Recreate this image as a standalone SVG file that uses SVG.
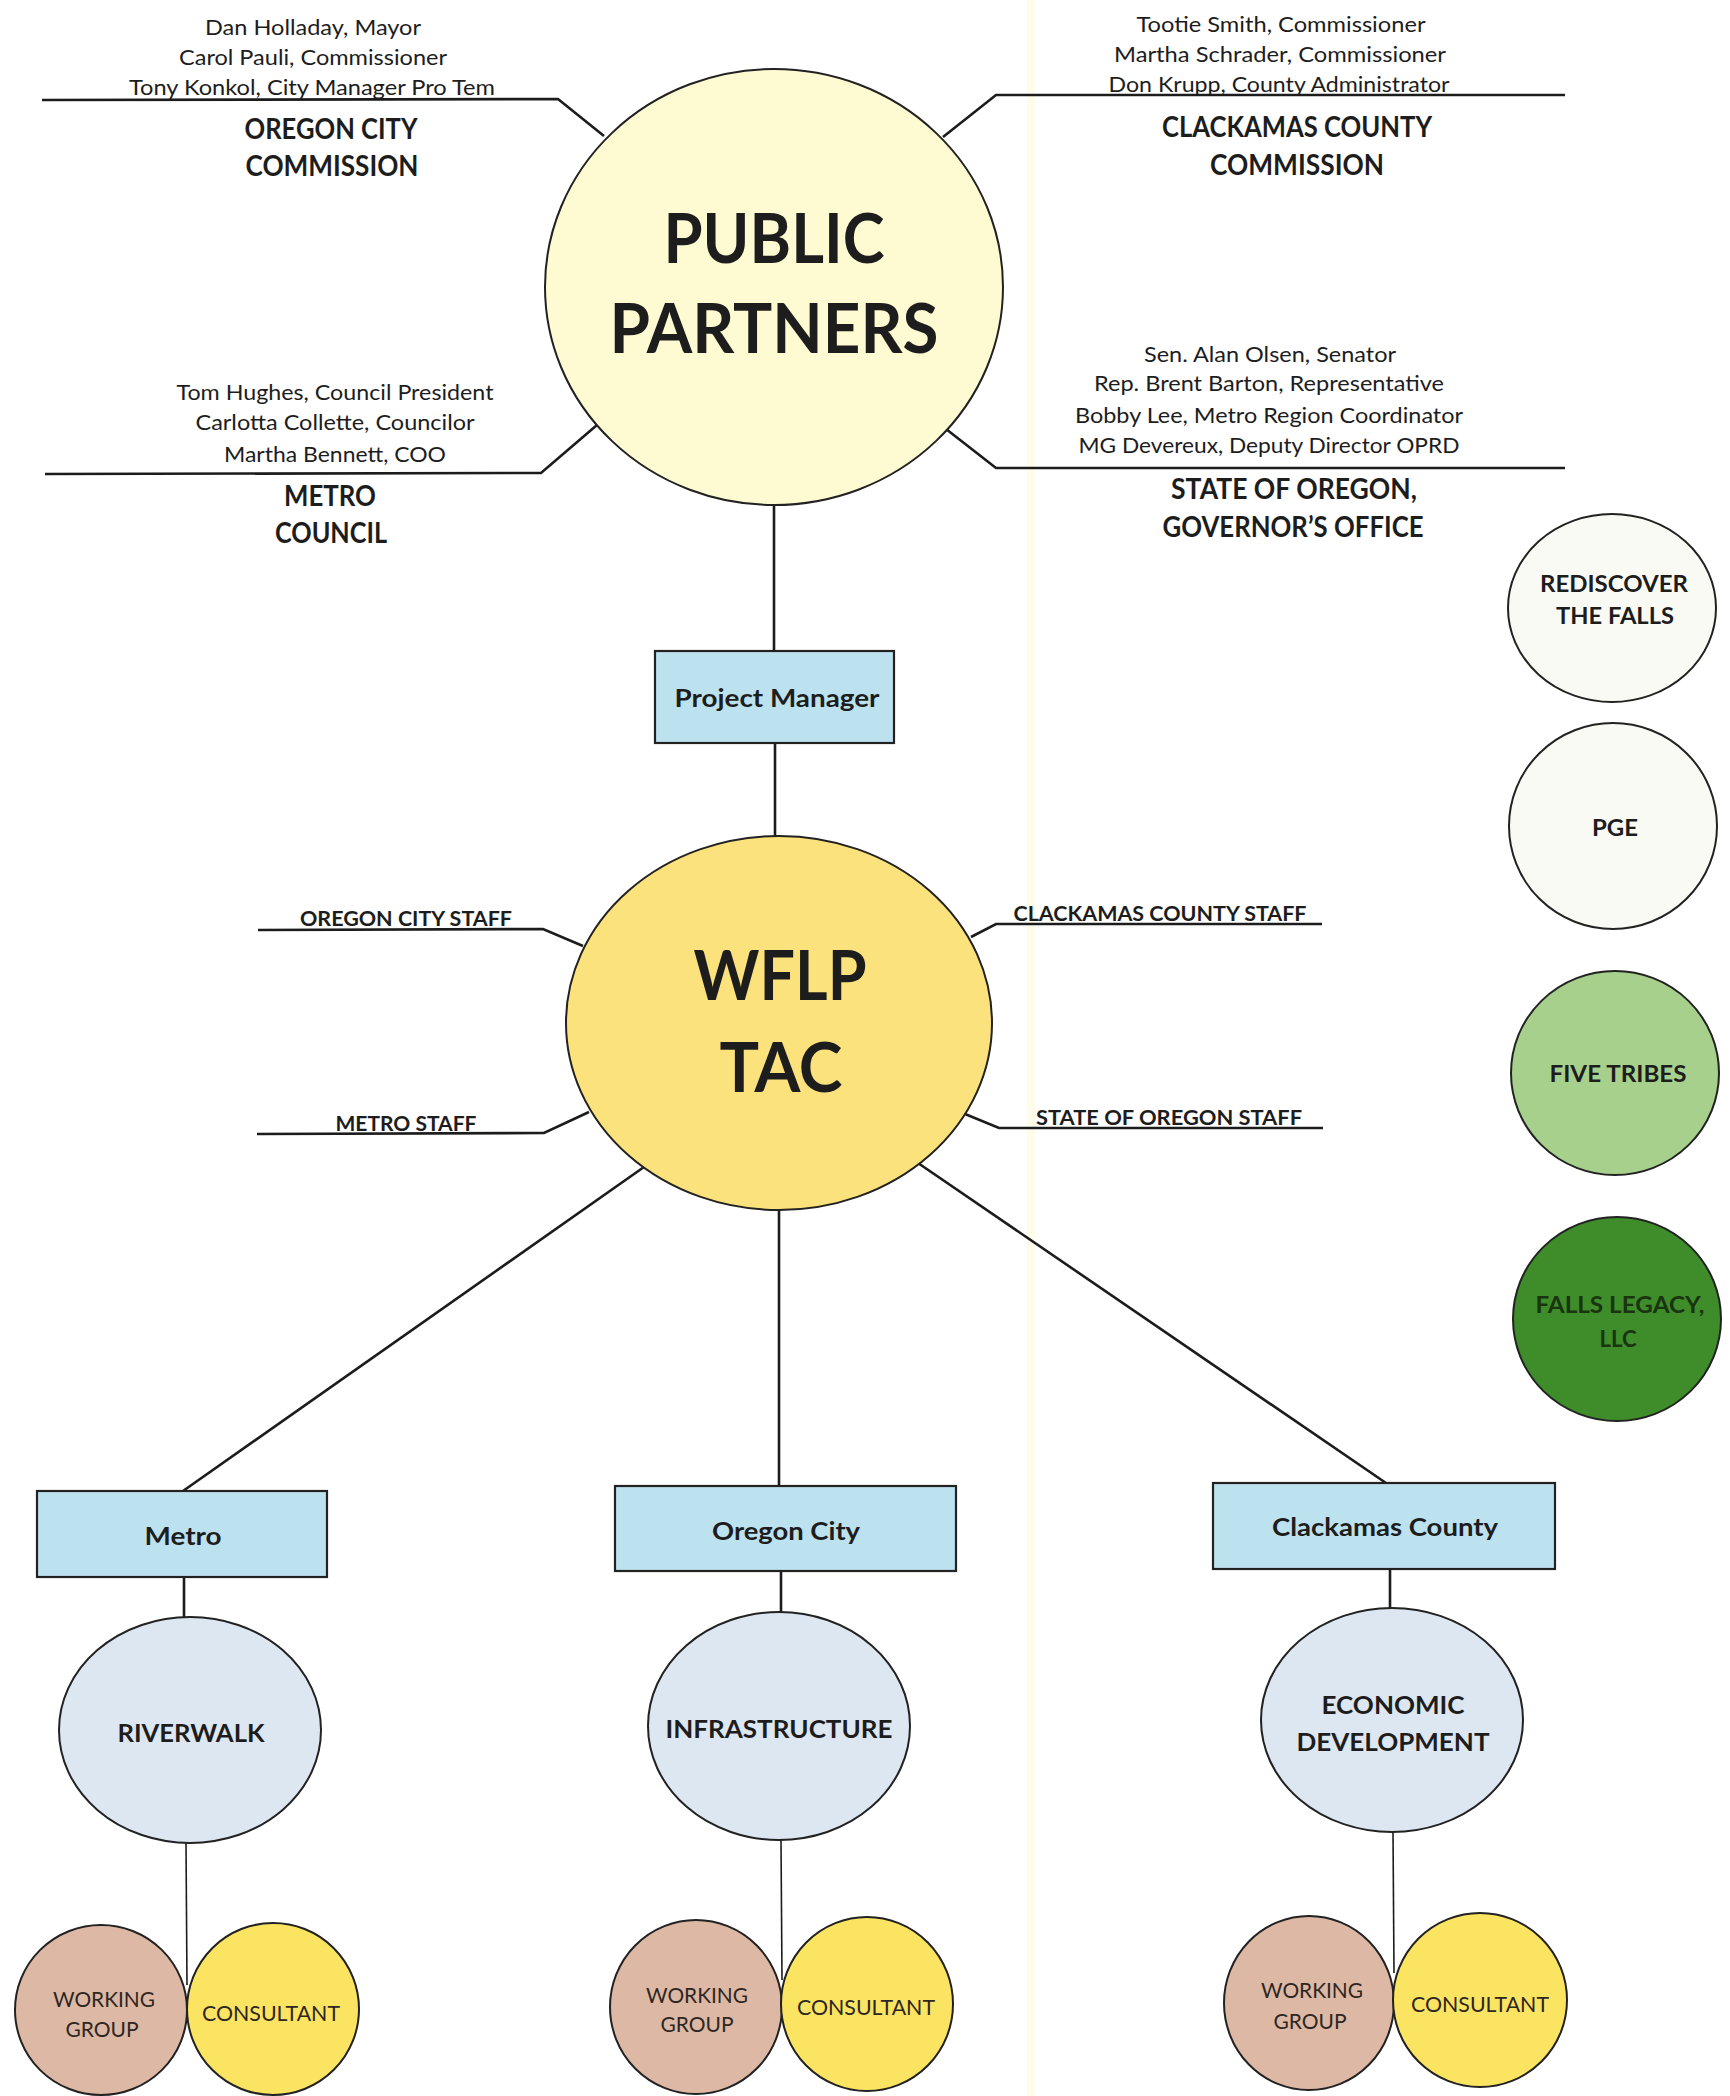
<svg xmlns="http://www.w3.org/2000/svg" width="1730" height="2096" viewBox="0 0 1730 2096">
  <style>
    .t { font-family: Lato, "Open Sans", "Liberation Sans", sans-serif; fill: #1d1d1d; text-anchor: middle; }
    .b { font-weight: 700; }
    .n { font-size: 22px; }
    .h { font-size: 28px; }
    .big { font-size: 68px; }
    .staff { font-size: 20px; }
    .box { font-size: 24px; }
    .sub { font-size: 25px; }
    .sm { font-size: 21px; fill: #2e2622; }
    .side { font-size: 22px; }
    .ln { stroke: #1c1c1c; stroke-width: 2.6; fill: none; stroke-linejoin: miter; }
    .thin { stroke: #1c1c1c; stroke-width: 1.6; fill: none; }
    .ol { stroke: #222; stroke-width: 2; }
    .rect { fill: #bde2ef; stroke: #222; stroke-width: 2.2; }
    .area { fill: #dde7f1; }
    .wg { fill: #ddb9a5; }
    .con { fill: #fce463; }
  </style>

  <rect x="0" y="0" width="1730" height="2096" fill="#ffffff"/>
  <rect x="1027" y="0" width="8" height="2096" fill="#fffcea"/>

  <g id="connectors">
    <polyline class="ln" points="42,100 558,99 604,136"/>
    <polyline class="ln" points="1565,95 996,95 943,137"/>
    <polyline class="ln" points="45,474 541,473 597,425"/>
    <polyline class="ln" points="1565,468 996,468 946,429"/>
    <line class="ln" x1="774" y1="505" x2="774" y2="651"/>
    <line class="ln" x1="775" y1="743" x2="775" y2="836"/>
    <polyline class="ln" points="258,930 543,929 583,946"/>
    <polyline class="ln" points="257,1134 544,1133 589,1112"/>
    <polyline class="ln" points="1322,924 996,924 971,937"/>
    <polyline class="ln" points="1323,1128 999,1128 965,1114"/>
    <line class="ln" x1="644" y1="1167" x2="183" y2="1491"/>
    <line class="ln" x1="779" y1="1210" x2="779" y2="1486"/>
    <line class="ln" x1="918" y1="1163" x2="1386" y2="1483"/>
    <line class="ln" x1="184" y1="1577" x2="184" y2="1617"/>
    <line class="thin" x1="186" y1="1843" x2="187" y2="1985"/>
    <line class="ln" x1="781" y1="1571" x2="781" y2="1612"/>
    <line class="thin" x1="781" y1="1840" x2="782" y2="1980"/>
    <line class="ln" x1="1390" y1="1569" x2="1390" y2="1608"/>
    <line class="thin" x1="1393" y1="1832" x2="1394" y2="1973"/>
  </g>

  <g id="oregon-city-commission">
    <text class="t n" x="313" y="35" textLength="216" lengthAdjust="spacingAndGlyphs">Dan Holladay, Mayor</text>
    <text class="t n" x="313" y="65" textLength="268" lengthAdjust="spacingAndGlyphs">Carol Pauli, Commissioner</text>
    <text class="t n" x="312" y="95" textLength="366" lengthAdjust="spacingAndGlyphs">Tony Konkol, City Manager Pro Tem</text>
    <text class="t b h" x="331" y="139" textLength="173" lengthAdjust="spacingAndGlyphs">OREGON CITY</text>
    <text class="t b h" x="332" y="176" textLength="173" lengthAdjust="spacingAndGlyphs">COMMISSION</text>
  </g>

  <g id="clackamas-county-commission">
    <text class="t n" x="1281" y="32" textLength="289" lengthAdjust="spacingAndGlyphs">Tootie Smith, Commissioner</text>
    <text class="t n" x="1280" y="62" textLength="332" lengthAdjust="spacingAndGlyphs">Martha Schrader, Commissioner</text>
    <text class="t n" x="1279" y="92" textLength="341" lengthAdjust="spacingAndGlyphs">Don Krupp, County Administrator</text>
    <text class="t b h" x="1297" y="137" textLength="270" lengthAdjust="spacingAndGlyphs">CLACKAMAS COUNTY</text>
    <text class="t b h" x="1297" y="175" textLength="174" lengthAdjust="spacingAndGlyphs">COMMISSION</text>
  </g>

  <g id="metro-council">
    <text class="t n" x="335" y="400" textLength="317" lengthAdjust="spacingAndGlyphs">Tom Hughes, Council President</text>
    <text class="t n" x="335" y="430" textLength="279" lengthAdjust="spacingAndGlyphs">Carlotta Collette, Councilor</text>
    <text class="t n" x="335" y="462" textLength="222" lengthAdjust="spacingAndGlyphs">Martha Bennett, COO</text>
    <text class="t b h" x="330" y="506" textLength="92" lengthAdjust="spacingAndGlyphs">METRO</text>
    <text class="t b h" x="331" y="543" textLength="112" lengthAdjust="spacingAndGlyphs">COUNCIL</text>
  </g>

  <g id="state-of-oregon">
    <text class="t n" x="1270" y="362" textLength="252" lengthAdjust="spacingAndGlyphs">Sen. Alan Olsen, Senator</text>
    <text class="t n" x="1269" y="391" textLength="350" lengthAdjust="spacingAndGlyphs">Rep. Brent Barton, Representative</text>
    <text class="t n" x="1269" y="423" textLength="388" lengthAdjust="spacingAndGlyphs">Bobby Lee, Metro Region Coordinator</text>
    <text class="t n" x="1269" y="453" textLength="381" lengthAdjust="spacingAndGlyphs">MG Devereux, Deputy Director OPRD</text>
    <text class="t b h" x="1294" y="499" textLength="246" lengthAdjust="spacingAndGlyphs">STATE OF OREGON,</text>
    <text class="t b h" x="1293" y="537" textLength="261" lengthAdjust="spacingAndGlyphs">GOVERNOR’S OFFICE</text>
  </g>

  <g id="public-partners">
    <ellipse cx="774" cy="287" rx="229" ry="218" fill="#fefad2" class="ol"/>
    <text class="t b big" x="774" y="263" textLength="221" lengthAdjust="spacingAndGlyphs">PUBLIC</text>
    <text class="t b big" x="774" y="353" textLength="329" lengthAdjust="spacingAndGlyphs">PARTNERS</text>
  </g>

  <g id="project-manager">
    <rect class="rect" x="655" y="651" width="239" height="92"/>
    <text class="t b box" x="777" y="707" textLength="205" lengthAdjust="spacingAndGlyphs">Project Manager</text>
  </g>

  <g id="wflp-tac">
    <ellipse cx="779" cy="1023" rx="213" ry="187" fill="#fce27c" class="ol"/>
    <text class="t b big" x="780" y="1000" textLength="173" lengthAdjust="spacingAndGlyphs">WFLP</text>
    <text class="t b big" x="781" y="1092" textLength="123" lengthAdjust="spacingAndGlyphs">TAC</text>
  </g>

  <g id="staff-labels">
    <text class="t b staff" x="406" y="926" textLength="212" lengthAdjust="spacingAndGlyphs">OREGON CITY STAFF</text>
    <text class="t b staff" x="406" y="1131" textLength="141" lengthAdjust="spacingAndGlyphs">METRO STAFF</text>
    <text class="t b staff" x="1160" y="921" textLength="293" lengthAdjust="spacingAndGlyphs">CLACKAMAS COUNTY STAFF</text>
    <text class="t b staff" x="1169" y="1125" textLength="266" lengthAdjust="spacingAndGlyphs">STATE OF OREGON STAFF</text>
  </g>

  <g id="rediscover-the-falls">
    <ellipse cx="1612" cy="608" rx="104" ry="94" fill="#fafaf4" class="ol"/>
    <text class="t b side" x="1614" y="592" textLength="148" lengthAdjust="spacingAndGlyphs">REDISCOVER</text>
    <text class="t b side" x="1615" y="624" textLength="118" lengthAdjust="spacingAndGlyphs">THE FALLS</text>
  </g>

  <g id="pge">
    <ellipse cx="1613" cy="826" rx="104" ry="103" fill="#fafaf4" class="ol"/>
    <text class="t b side" x="1615" y="836" textLength="46" lengthAdjust="spacingAndGlyphs">PGE</text>
  </g>

  <g id="five-tribes">
    <ellipse cx="1615" cy="1073" rx="104" ry="102" fill="#a8d08d" class="ol"/>
    <text class="t b side" x="1618" y="1082" textLength="137" lengthAdjust="spacingAndGlyphs">FIVE TRIBES</text>
  </g>

  <g id="falls-legacy">
    <ellipse cx="1617" cy="1319" rx="104" ry="102" fill="#3e8c2a" class="ol"/>
    <text class="t b side" x="1620" y="1313" textLength="169" lengthAdjust="spacingAndGlyphs" style="fill:#1a3410">FALLS LEGACY,</text>
    <text class="t b side" x="1618" y="1347" textLength="37" lengthAdjust="spacingAndGlyphs" style="fill:#1a3410">LLC</text>
  </g>

  <g id="metro">
    <rect class="rect" x="37" y="1491" width="290" height="86"/>
    <text class="t b box" x="183" y="1545" textLength="77" lengthAdjust="spacingAndGlyphs">Metro</text>
  </g>

  <g id="oregon-city">
    <rect class="rect" x="615" y="1486" width="341" height="85"/>
    <text class="t b box" x="786" y="1540" textLength="148" lengthAdjust="spacingAndGlyphs">Oregon City</text>
  </g>

  <g id="clackamas-county">
    <rect class="rect" x="1213" y="1483" width="342" height="86"/>
    <text class="t b box" x="1385" y="1536" textLength="226" lengthAdjust="spacingAndGlyphs">Clackamas County</text>
  </g>

  <g id="riverwalk">
    <ellipse class="area ol" cx="190" cy="1730" rx="131" ry="113"/>
    <text class="t b sub" x="191" y="1742" textLength="147" lengthAdjust="spacingAndGlyphs">RIVERWALK</text>
  </g>

  <g id="infrastructure">
    <ellipse class="area ol" cx="779" cy="1726" rx="131" ry="114"/>
    <text class="t b sub" x="779" y="1738" textLength="227" lengthAdjust="spacingAndGlyphs">INFRASTRUCTURE</text>
  </g>

  <g id="economic-development">
    <ellipse class="area ol" cx="1392" cy="1720" rx="131" ry="112"/>
    <text class="t b sub" x="1393" y="1714" textLength="143" lengthAdjust="spacingAndGlyphs">ECONOMIC</text>
    <text class="t b sub" x="1393" y="1751" textLength="193" lengthAdjust="spacingAndGlyphs">DEVELOPMENT</text>
  </g>

  <g id="metro-working-group">
    <ellipse class="wg ol" cx="101" cy="2010" rx="86" ry="85"/>
    <text class="t sm" x="104" y="2007" textLength="102" lengthAdjust="spacingAndGlyphs">WORKING</text>
    <text class="t sm" x="102" y="2037" textLength="73" lengthAdjust="spacingAndGlyphs">GROUP</text>
  </g>
  <g id="metro-consultant">
    <ellipse class="con ol" cx="273" cy="2009" rx="86" ry="86"/>
    <text class="t sm" x="271" y="2021" textLength="138" lengthAdjust="spacingAndGlyphs">CONSULTANT</text>
  </g>

  <g id="oregon-city-working-group">
    <ellipse class="wg ol" cx="696" cy="2007" rx="86" ry="87"/>
    <text class="t sm" x="697" y="2003" textLength="102" lengthAdjust="spacingAndGlyphs">WORKING</text>
    <text class="t sm" x="697" y="2032" textLength="73" lengthAdjust="spacingAndGlyphs">GROUP</text>
  </g>
  <g id="oregon-city-consultant">
    <ellipse class="con ol" cx="867" cy="2004" rx="86" ry="87"/>
    <text class="t sm" x="866" y="2015" textLength="138" lengthAdjust="spacingAndGlyphs">CONSULTANT</text>
  </g>

  <g id="clackamas-working-group">
    <ellipse class="wg ol" cx="1309" cy="2003" rx="85" ry="87"/>
    <text class="t sm" x="1312" y="1998" textLength="102" lengthAdjust="spacingAndGlyphs">WORKING</text>
    <text class="t sm" x="1310" y="2029" textLength="73" lengthAdjust="spacingAndGlyphs">GROUP</text>
  </g>
  <g id="clackamas-consultant">
    <ellipse class="con ol" cx="1480" cy="2000" rx="87" ry="87"/>
    <text class="t sm" x="1480" y="2012" textLength="138" lengthAdjust="spacingAndGlyphs">CONSULTANT</text>
  </g>
</svg>
